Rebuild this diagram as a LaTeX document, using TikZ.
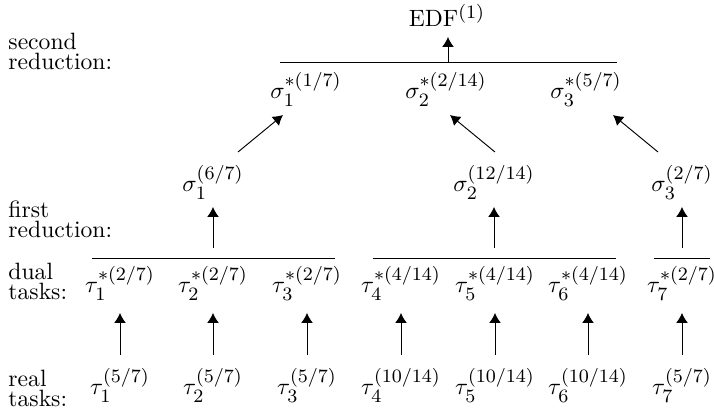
\documentclass[tikz,border=0pt]{standalone}
\usepackage{amsmath, amssymb}
\DeclareMathSizes{10}{10}{8}{6}
\usetikzlibrary{arrows.meta}

\begin{document}
\begin{tikzpicture}[x=0.4237pt, y=-0.4237pt,
    lbl/.style={anchor=base west, inner sep=0pt, align=left, font=\fontsize{10}{8.5}\selectfont},
    task/.style={anchor=base, inner sep=0pt},
    arr/.style={-{Latex[length=4.2pt,width=5pt]}}]
  \useasboundingbox (0,0) rectangle (714,411);
  % row labels
  \node[lbl] (lsec) at (8,70) {second\\reduction:};
  \node[lbl] (lfirst) at (8,238) {first\\reduction:};
  \node[lbl] (ldual) at (8,300) {dual\\tasks:};
  \node[lbl] (lreal) at (8,407) {real\\tasks:};
  % real tasks
  \node[task] (r1) at (120,395) {$\tau_1^{(5/7)}$};
  \node[task] (r2) at (213,395) {$\tau_2^{(5/7)}$};
  \node[task] (r3) at (307,395) {$\tau_3^{(5/7)}$};
  \node[task] (r4) at (401,395) {$\tau_4^{(10/14)}$};
  \node[task] (r5) at (495,395) {$\tau_5^{(10/14)}$};
  \node[task] (r6) at (588,395) {$\tau_6^{(10/14)}$};
  \node[task] (r7) at (682,395) {$\tau_7^{(5/7)}$};
  % dual tasks
  \node[task] (d1) at (120,293) {$\tau_1^{*(2/7)}$};
  \node[task] (d2) at (213,293) {$\tau_2^{*(2/7)}$};
  \node[task] (d3) at (307,293) {$\tau_3^{*(2/7)}$};
  \node[task] (d4) at (401,293) {$\tau_4^{*(4/14)}$};
  \node[task] (d5) at (495,293) {$\tau_5^{*(4/14)}$};
  \node[task] (d6) at (588,293) {$\tau_6^{*(4/14)}$};
  \node[task] (d7) at (682,293) {$\tau_7^{*(2/7)}$};
  \foreach \i in {1,...,7}
    \draw[arr] ([shift={(0,-40)}]r\i.base) -- ([shift={(0,20)}]d\i.base);
  % first reduction
  \coordinate (g1a) at (92,258);  \coordinate (g1b) at (335,258);
  \coordinate (g2a) at (373,258); \coordinate (g2b) at (616,258);
  \coordinate (g3a) at (654,258); \coordinate (g3b) at (710,258);
  \draw (g1a) -- (g1b); \draw (g2a) -- (g2b); \draw (g3a) -- (g3b);
  \coordinate (g1) at (213,258); \coordinate (g2) at (494,258); \coordinate (g3) at (682,258);
  \node[task] (s1) at (213,192) {$\sigma_1^{(6/7)}$};
  \node[task] (s2) at (494,192) {$\sigma_2^{(12/14)}$};
  \node[task] (s3) at (682,192) {$\sigma_3^{(2/7)}$};
  \foreach \i in {1,2,3}
    \draw[arr] ([shift={(0,-10)}]g\i) -- ([shift={(0,15)}]s\i.base);
  % second reduction
  \node[task] (t1) at (306,99) {$\sigma_1^{*(1/7)}$};
  \node[task] (t2) at (446,99) {$\sigma_2^{*(2/14)}$};
  \node[task] (t3) at (586,99) {$\sigma_3^{*(5/7)}$};
  \draw[arr] ([shift={(25,-40)}]s1.base) -- ([shift={(-23,16)}]t1.base);
  \draw[arr] ([shift={(1,-40)}]s2.base) -- ([shift={(4,16)}]t2.base);
  \draw[arr] ([shift={(-24,-40)}]s3.base) -- ([shift={(27,16)}]t3.base);
  \coordinate (ha) at (280,62); \coordinate (hb) at (617,62);
  \draw (ha) -- (hb);
  \coordinate (h) at (448,62);
  \node[task] (edf) at (447,27) {EDF$^{(1)}$};
  \draw[arr] (h) -- ([shift={(1,10)}]edf.base);
\end{tikzpicture}
\end{document}
